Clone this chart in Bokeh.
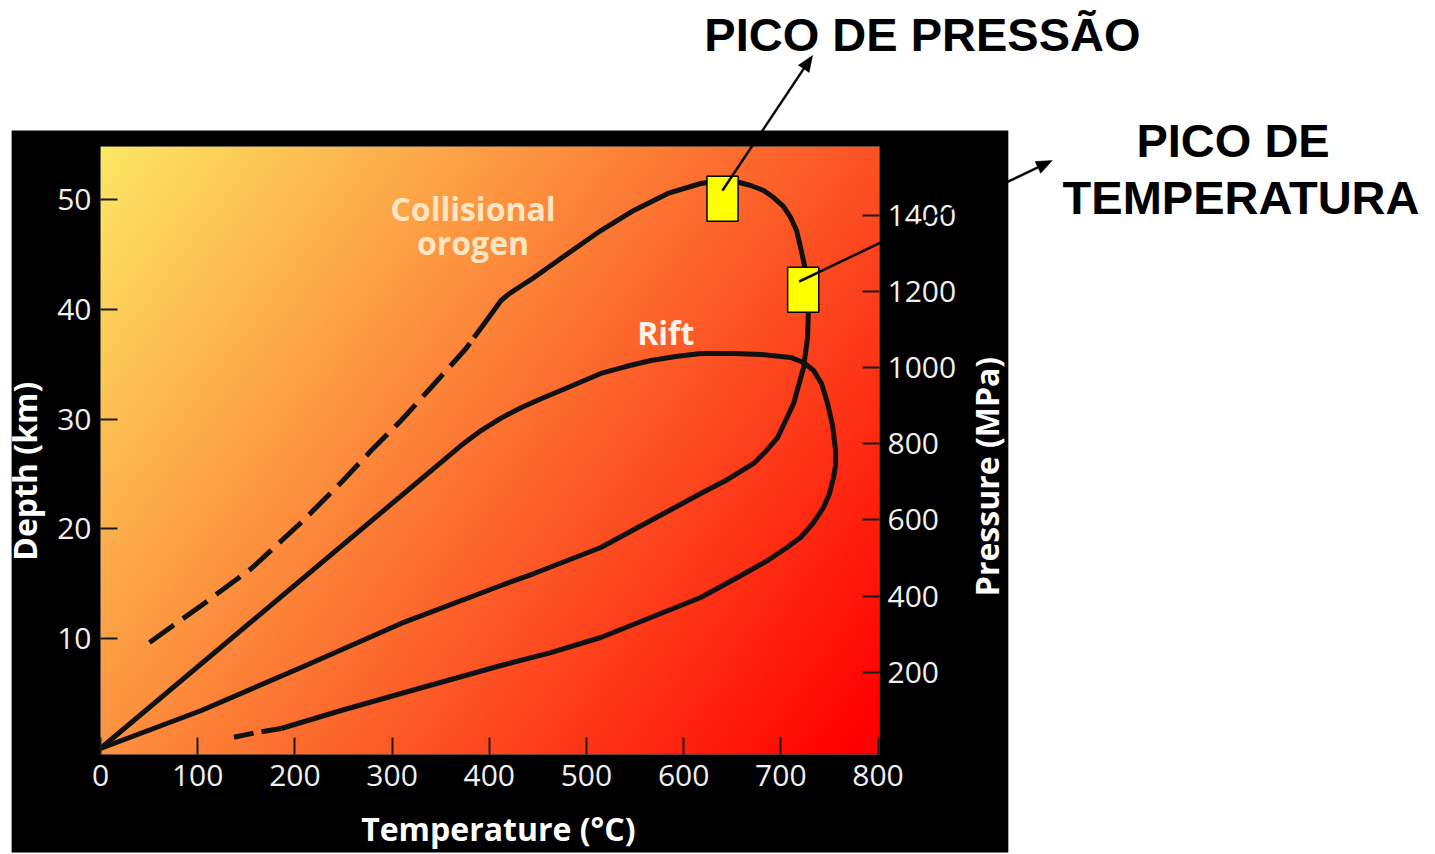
import math
import numpy as np
from bokeh.plotting import figure
from bokeh.models import Range1d, LinearAxis, FixedTicker, Label
from bokeh.core.properties import value
from bokeh.embed import file_html
from bokeh.resources import INLINE

# ---------------- data ----------------
temp_ticks = [0, 100, 200, 300, 400, 500, 600, 700, 800]
depth_ticks = [10, 20, 30, 40, 50]
pressure_ticks = [200, 400, 600, 800, 1000, 1200, 1400]

# Collisional orogen, prograde (dashed) segment
orogen_pro_T = [50.4, 103.8, 155.2, 206.5, 247.6, 278.5, 309.3, 340.1, 376.1, 384.3]
orogen_pro_D = [9.66, 13.03, 16.4, 20.59, 24.23, 27.15, 29.88, 32.89, 36.44, 37.45]

# Collisional orogen, solid loop (peak P, peak T, return to surface)
orogen_T = [384.3, 398.7, 412.1, 420.3, 432.6, 446.0, 480.9, 514.8, 548.7, 583.7, 617.6,
            638.1, 653.5, 668.9, 682.3, 692.6, 702.8, 710.1, 716.2, 720.3, 725.5, 728.6,
            727.5, 723.4, 713.1, 696.7, 684.4, 672.0, 645.3, 617.6, 566.2, 514.8, 446.0,
            412.1, 309.3, 206.5, 103.8, 0]
orogen_D = [37.45, 39.18, 40.82, 41.42, 42.14, 42.91, 45.10, 47.19, 49.02, 50.57, 51.48,
            51.75, 51.66, 51.30, 50.84, 50.20, 49.38, 48.38, 47.20, 45.65, 43.55, 40.54,
            37.45, 34.71, 31.43, 28.33, 27.06, 25.97, 24.51, 23.23, 20.77, 18.31, 15.94,
            14.85, 11.39, 7.38, 3.46, 0]

# Rift loop
rift_T = [0, 370.9, 391.5, 412.1, 432.6, 453.2, 480.9, 514.8, 540.5, 566.2, 591.9, 617.6,
          651.5, 679.2, 710.1, 723.4, 733.7, 741.9, 748.1, 753.2, 756.3, 756.3, 754.2,
          750.1, 743.9, 733.7, 720.3, 704.9, 686.4, 653.5, 617.6, 566.2, 514.8, 463.4,
          412.1, 309.3, 247.6, 185.9]
rift_D = [0, 27.60, 28.97, 30.10, 31.05, 31.87, 32.89, 34.17, 34.80, 35.35, 35.72, 35.99,
          35.99, 35.90, 35.63, 35.17, 34.44, 33.25, 31.43, 29.43, 27.15, 25.78, 24.69,
          23.23, 21.96, 20.59, 19.22, 18.22, 17.13, 15.49, 13.76, 11.93, 10.11, 8.74,
          7.56, 5.01, 3.46, 1.82]
rift_tail_T = [185.9, 160.3, 131.5]
rift_tail_D = [1.82, 1.45, 0.91]

# Peak markers (pressure peak, temperature peak)
peak_T = [640, 723]
peak_D = [50.1, 41.8]

KM_TO_MPA = 28.81
X0, X1 = 0, 801.5
Y0, Y1 = -0.55, 54.85

# frame placement on the canvas (px)
FL, FR, FT, FB = 99, 879, 146, 754
W, H = 1435, 854

p = figure(width=W, height=H, output_backend="svg", toolbar_location=None,
           x_range=Range1d(X0, X1), y_range=Range1d(Y0, Y1),
           min_border_left=FL, min_border_right=W - FR, min_border_top=FT,
           min_border_bottom=H - FB, border_fill_color="black",
           background_fill_color="black", outline_line_color=None)
p.grid.visible = False

sx = (X1 - X0) / (FR - FL)
sy = (Y1 - Y0) / (FB - FT)
def dx(px):
    return X0 + (px - FL) * sx
def dy(py):
    return Y0 + (FB - py) * sy

# gradient background
ny, nx = 200, 300
xn = np.linspace(0, 1, nx)[None, :]
yn = 1 - np.linspace(0, 1, ny)[:, None]
G = np.clip(232 - 150 * xn - 87 * yn, 0, 255)
R = np.full_like(G, 252.0) + 3 * np.clip(xn + yn - 1, 0, 1)
B = 0.43 * G
img = np.empty((ny, nx), dtype=np.uint32)
view = img.view(dtype=np.uint8).reshape((ny, nx, 4))
view[:, :, 0] = R.astype(np.uint8)
view[:, :, 1] = G.astype(np.uint8)
view[:, :, 2] = B.astype(np.uint8)
view[:, :, 3] = 255
p.image_rgba(image=[img], x=X0, y=Y0, dw=X1 - X0, dh=Y1 - Y0)

LW = 5
LC = "#111111"
p.line(orogen_pro_T, orogen_pro_D, line_width=LW, line_color=LC, line_dash="30 11")
p.line(orogen_T, orogen_D, line_width=LW, line_color=LC, line_join="round")
p.line(rift_T, rift_D, line_width=LW, line_color=LC, line_join="round")
p.line(rift_tail_T, rift_tail_D, line_width=LW, line_color=LC, line_dash="20 8")

p.rect(x=peak_T, y=peak_D, width=32, height=4.1, fill_color="#ffff00",
       line_color="black", line_width=1.5)

# axes
TICK_FONT = "Open Sans"
NB = "\u00a0"
def style_axis(ax):
    ax.axis_line_color = None
    ax.major_tick_in = 17
    ax.major_tick_out = 0
    ax.minor_tick_line_color = None
    ax.major_tick_line_color = "#1a1a1a"
    ax.major_tick_line_width = 2
    ax.major_label_text_font = TICK_FONT
    ax.major_label_text_font_size = "30px"
    ax.major_label_text_color = "#f0f0f0"
    ax.axis_label_text_font = TICK_FONT
    ax.axis_label_text_font_style = "bold"
    ax.axis_label_text_font_size = "32px"
    ax.axis_label_text_color = "#ffffff"

xa = p.xaxis[0]
xa.ticker = FixedTicker(ticks=temp_ticks)
xa.axis_label = NB * 2 + "Temperature (°C)"
style_axis(xa)
xa.major_label_standoff = 10
xa.axis_label_standoff = 18

ya = p.yaxis[0]
ya.ticker = FixedTicker(ticks=depth_ticks)
ya.axis_label = "Depth (km)" + NB * 5
style_axis(ya)
ya.major_label_standoff = 9
ya.axis_label_standoff = 8

p.extra_y_ranges = {"pres": Range1d(Y0 * KM_TO_MPA, Y1 * KM_TO_MPA)}
ra = LinearAxis(y_range_name="pres", ticker=FixedTicker(ticks=pressure_ticks))
style_axis(ra)
ra.major_label_standoff = 8
p.add_layout(ra, "right")

# in-plot labels
LBL_SHIFT = 12
p.add_layout(Label(x=dx(472), y=dy(220 - LBL_SHIFT), text="Collisional", text_align="center",
                   text_baseline="alphabetic", text_font=TICK_FONT, text_font_style="bold",
                   text_font_size="32px", text_color="#fde6c2"))
p.add_layout(Label(x=dx(472), y=dy(254 - LBL_SHIFT), text="orogen", text_align="center",
                   text_baseline="alphabetic", text_font=TICK_FONT, text_font_style="bold",
                   text_font_size="32px", text_color="#fde6c2"))
p.add_layout(Label(x=dx(665), y=dy(342 - 10), text="Rift", text_align="center",
                   text_baseline="alphabetic", text_font=TICK_FONT, text_font_style="bold",
                   text_font_size="32px", text_color="#fff2e8"))

# ---- outside-the-frame decorations (overlay level, drawn after axes) ----
# white page around the black panel (panel spans x 10..1008, y 130..852)
PAD = 30
p.quad(left=[dx(-PAD), dx(-PAD), dx(1008), dx(-PAD)],
       right=[dx(W + PAD), dx(10), dx(W + PAD), dx(W + PAD)],
       top=[dy(-PAD), dy(0), dy(0), dy(852)],
       bottom=[dy(130), dy(H + PAD), dy(H + PAD), dy(H + PAD)],
       fill_color="white", line_color=None, level="overlay")

# right-hand axis title (reads bottom-to-top as in the original)
p.text(x=[dx(986)], y=[dy(476)], text=["Pressure (MPa)"], angle=math.pi / 2,
       text_align="center", text_baseline="middle", text_font=value(TICK_FONT),
       text_font_style="bold", text_font_size="32px", text_color="#ffffff",
       level="overlay")

TF = value("Liberation Sans")
TSH = 18.5
p.text(x=[dx(922), dx(1233), dx(1241)], y=[dy(52 - TSH), dy(158 - TSH), dy(215 - TSH)],
       text=["PICO DE PRESSÃO", "PICO DE", "TEMPERATURA"],
       text_align="center", text_baseline="alphabetic", text_font=TF,
       text_font_style="bold", text_font_size="47px", text_color="black",
       level="overlay")

# arrows from the peak markers to the captions (shaft + head as one polygon)
starts = [(peak_T[0], peak_D[0] + 0.75), (peak_T[1] - 4, peak_D[1] + 0.75)]
tips_px = [(812, 55), (1052, 160)]
HEAD_L, HEAD_W, SHAFT_W = 16, 6.5, 1.0
arrows_x, arrows_y = [], []
for (t0, d0), (tx, ty) in zip(starts, tips_px):
    spx = FL + (t0 - X0) / sx
    spy = FB - (d0 - Y0) / sy
    vx, vy = tx - spx, ty - spy
    L = math.hypot(vx, vy)
    ux, uy = vx / L, vy / L
    nx_, ny_ = -uy, ux
    bx, by = tx - HEAD_L * ux, ty - HEAD_L * uy
    pts = [(spx + SHAFT_W * nx_, spy + SHAFT_W * ny_),
           (bx + SHAFT_W * nx_, by + SHAFT_W * ny_),
           (bx + HEAD_W * nx_, by + HEAD_W * ny_),
           (tx, ty),
           (bx - HEAD_W * nx_, by - HEAD_W * ny_),
           (bx - SHAFT_W * nx_, by - SHAFT_W * ny_),
           (spx - SHAFT_W * nx_, spy - SHAFT_W * ny_)]
    arrows_x.append([dx(a) for a, _ in pts])
    arrows_y.append([dy(b) for _, b in pts])
p.patches(xs=arrows_x, ys=arrows_y, fill_color="black", line_color="black",
          line_width=0.5, level="overlay")

open("out.html", "w").write(file_html(p, INLINE))
